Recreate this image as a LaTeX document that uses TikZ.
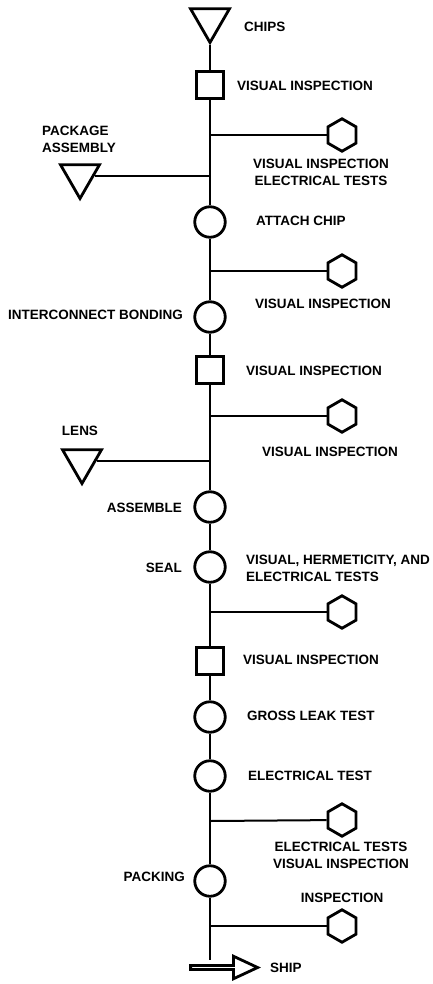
\documentclass[tikz,border=0pt]{standalone}
\usepackage{fontspec}
\setmainfont{Liberation Sans}
\usetikzlibrary{shapes.geometric, shapes.arrows, positioning}

\begin{document}
\begin{tikzpicture}[x=1pt, y=-1pt, font=\bfseries\fontsize{13.5}{17}\selectfont,
  stor/.style={draw, line width=2.8pt, regular polygon, regular polygon sides=3,
    shape border rotate=180, minimum size=45pt, inner sep=0pt},
  insp/.style={draw, line width=2.8pt, rectangle, minimum size=26.5pt, inner sep=0pt},
  oper/.style={draw, line width=2.8pt, circle, minimum size=30.5pt, inner sep=0pt},
  chk/.style={draw, line width=2.8pt, regular polygon, regular polygon sides=6,
    shape border rotate=30, minimum size=32.5pt, inner sep=0pt},
  lbl/.style={inner sep=0pt},
  flow/.style={line width=2pt}]

\useasboundingbox (0,0) rectangle (432,984);

% --- Chips and first inspection
\node[stor] (chips) at (210,20) {};
\node[lbl, anchor=west] (lchips) at (244,27) {CHIPS};
\node[insp] (sq1) at (210,85) {};
\node[lbl, anchor=west] (lsq1) at (237,86) {VISUAL INSPECTION};

% --- Package assembly
\coordinate (j1) at (210,135);
\node[chk] (hex1) at (342,135) {};
\node[lbl, align=center] (lhex1) at (321,172.5) {VISUAL INSPECTION\\ELECTRICAL TESTS};
\coordinate (j2) at (210,176);
\node[stor] (pkg) at (80,176) {};
\node[lbl, anchor=west, align=left] (lpkg) at (42,139.5) {PACKAGE\\ASSEMBLY};

% --- Attach chip and bonding
\node[oper] (c1) at (210,222) {};
\node[lbl, anchor=west] (lc1) at (256,221) {ATTACH CHIP};
\coordinate (j3) at (210,271);
\node[chk] (hex2) at (342,271) {};
\node[lbl] (lhex2) at (323,304) {VISUAL INSPECTION};
\node[oper] (c2) at (210,317) {};
\node[lbl, anchor=east] (lc2) at (183,315) {INTERCONNECT BONDING};
\node[insp] (sq2) at (210,370) {};
\node[lbl, anchor=west] (lsq2) at (246,371) {VISUAL INSPECTION};
\coordinate (j4) at (210,416);
\node[chk] (hex3) at (342,416) {};
\node[lbl] (lhex3) at (330,452) {VISUAL INSPECTION};

% --- Lens, assemble, seal
\coordinate (j5) at (210,461);
\node[stor] (lens) at (82,461) {};
\node[lbl] (llens) at (80,431) {LENS};
\node[oper] (c3) at (210,507) {};
\node[lbl, anchor=east] (lc3) at (182,508) {ASSEMBLE};
\node[oper] (c4) at (210,567) {};
\node[lbl, anchor=east] (lc4) at (182,568) {SEAL};
\node[lbl, anchor=west, align=left] (lc4r) at (246,568.5) {VISUAL, HERMETICITY, AND\\ELECTRICAL TESTS};
\coordinate (j6) at (210,612);
\node[chk] (hex4) at (342,612) {};

% --- Final tests and packing
\node[insp] (sq3) at (210,661) {};
\node[lbl, anchor=west] (lsq3) at (243,660) {VISUAL INSPECTION};
\node[oper] (c5) at (210,717) {};
\node[lbl, anchor=west] (lc5) at (247,716) {GROSS LEAK TEST};
\node[oper] (c6) at (210,776) {};
\node[lbl, anchor=west] (lc6) at (248,776) {ELECTRICAL TEST};
\coordinate (j7) at (210,821);
\node[chk] (hex5) at (342,820) {};
\node[lbl, align=center] (lhex5) at (341,855) {ELECTRICAL TESTS\\VISUAL INSPECTION};
\node[oper] (c7) at (210,881) {};
\node[lbl, anchor=east] (lc7) at (185,877) {PACKING};
\coordinate (j8) at (210,926);
\node[chk] (hex6) at (342,926) {};
\node[lbl] (lhex6) at (342,898) {INSPECTION};

% --- Ship
\coordinate (shiptop) at (210,960);
\node[draw, line width=2.8pt, single arrow, minimum height=67pt, minimum width=22.5pt,
  single arrow head extend=6.5pt, single arrow tip angle=50, inner sep=0pt] (ship) at (222,967.5) {};
\node[lbl, anchor=west] (lship) at (270,968) {SHIP};

% --- Main flow line
\draw[flow] (chips) -- (sq1) -- (c1) -- (c2) -- (sq2) -- (c3) -- (c4) -- (sq3)
  -- (c5) -- (c6) -- (c7) -- (shiptop);

% --- Branches
\draw[flow] (j1) -- (hex1);
\draw[flow] (pkg) -- (j2);
\draw[flow] (j3) -- (hex2);
\draw[flow] (j4) -- (hex3);
\draw[flow] (lens) -- (j5);
\draw[flow] (j6) -- (hex4);
\draw[flow] (j7) -- (hex5);
\draw[flow] (j8) -- (hex6);
\end{tikzpicture}
\end{document}
